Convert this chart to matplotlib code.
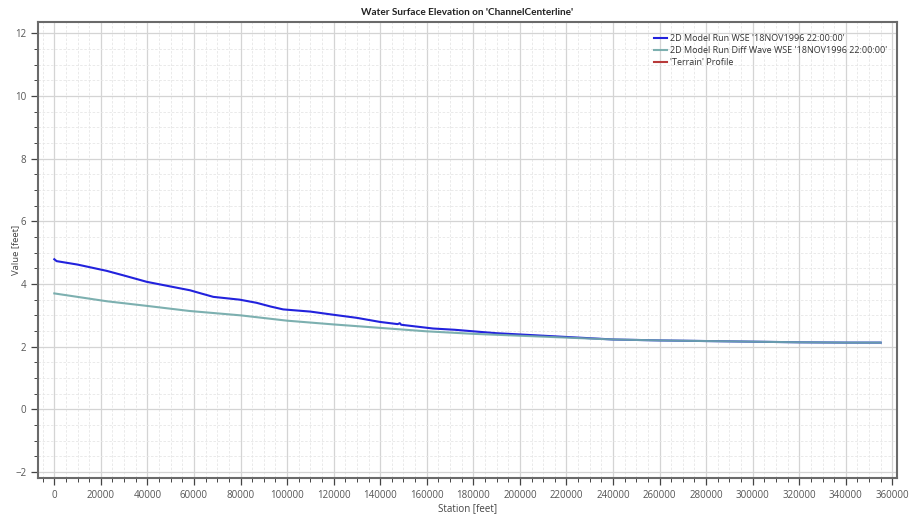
import matplotlib
matplotlib.use("Agg")
import matplotlib.pyplot as plt
from matplotlib.ticker import MultipleLocator

plt.rcParams['font.family'] = ['Open Sans', 'DejaVu Sans']

title = "Water Surface Elevation on 'ChannelCenterline'"
xlabel = "Station [feet]"
ylabel = "Value [feet]"
labels = ["2D Model Run WSE '18NOV1996 22:00:00'",
          "2D Model Run Diff Wave WSE '18NOV1996 22:00:00'",
          "'Terrain' Profile"]

wse_station = [0, 1000, 10000, 22500, 30000, 39700, 50000, 58300, 63000, 68300,
               79700, 86900, 93000, 98300, 110000, 119800, 130000, 139900, 147500,
               148400, 149000, 162700, 172000, 180000, 190000, 200000, 220000,
               240000, 260000, 280000, 300000, 320000, 340000, 355000]
wse_value = [4.79, 4.73, 4.62, 4.42, 4.27, 4.07, 3.92, 3.80, 3.70, 3.59,
             3.50, 3.40, 3.28, 3.19, 3.12, 3.02, 2.92, 2.79, 2.72,
             2.75, 2.70, 2.58, 2.54, 2.49, 2.43, 2.39, 2.31,
             2.23, 2.20, 2.18, 2.16, 2.14, 2.13, 2.13]

dw_station = [0, 22500, 40000, 58000, 80000, 100000, 120000, 140000, 160000,
              180000, 200000, 220000, 240000, 260000, 280000, 300000, 320000,
              340000, 355000]
dw_value = [3.70, 3.45, 3.30, 3.14, 3.00, 2.83, 2.71, 2.60, 2.49,
            2.41, 2.35, 2.29, 2.23, 2.20, 2.18, 2.16, 2.14, 2.13, 2.13]

terrain_station = []
terrain_value = []

fig = plt.figure(figsize=(9.1, 5.16), dpi=100)
ax = fig.add_axes([38/910, 1-478/516, (897-38)/910, (478-21.7)/516])

ax.plot(wse_station, wse_value, color='#2222dd', lw=1.5, label=labels[0], zorder=2)
ax.plot(dw_station, dw_value, color='#6fa8a8', lw=1.5, label=labels[1], zorder=3, alpha=0.9)
ax.plot(terrain_station, terrain_value, color='#b83a3a', lw=1.5, label=labels[2])

ax.set_xlim(-7000, 362000)
ax.set_ylim(-2.19, 12.37)
ax.xaxis.set_major_locator(MultipleLocator(20000))
ax.xaxis.set_minor_locator(MultipleLocator(5000))
ax.yaxis.set_major_locator(MultipleLocator(2))
ax.yaxis.set_minor_locator(MultipleLocator(0.5))

ax.grid(which='major', color='#d4d4d4', lw=0.9, ls='-')
ax.grid(which='minor', color='#e6e6e6', lw=0.6, ls=(0, (3, 2)))
ax.set_axisbelow(True)

ax.tick_params(which='major', direction='out', length=5, width=0.9, colors='#444444',
               labelsize=7, labelcolor='#555555')
ax.tick_params(which='minor', direction='out', length=3, width=0.7, colors='#444444')
for s in ax.spines.values():
    s.set_color('#6a6a6a')
    s.set_linewidth(1.5)

ax.set_title(title, fontsize=7.2, fontweight='bold', color='#222222', pad=5,
             family=['Lato', 'DejaVu Sans'])
ax.set_xlabel(xlabel, fontsize=7, color='#444444', labelpad=2)
ax.set_ylabel(ylabel, fontsize=6.8, color='#444444')
ax.yaxis.set_label_coords(-0.021, 0.5)

leg = ax.legend(loc='upper right', bbox_to_anchor=(0.995, 0.985), frameon=False,
                fontsize=6.5, handlelength=1.5, handletextpad=0.3, labelspacing=0.35,
                borderaxespad=0.2)
for t in leg.get_texts():
    t.set_color('#333333')

fig.savefig('out.png', dpi=100)
